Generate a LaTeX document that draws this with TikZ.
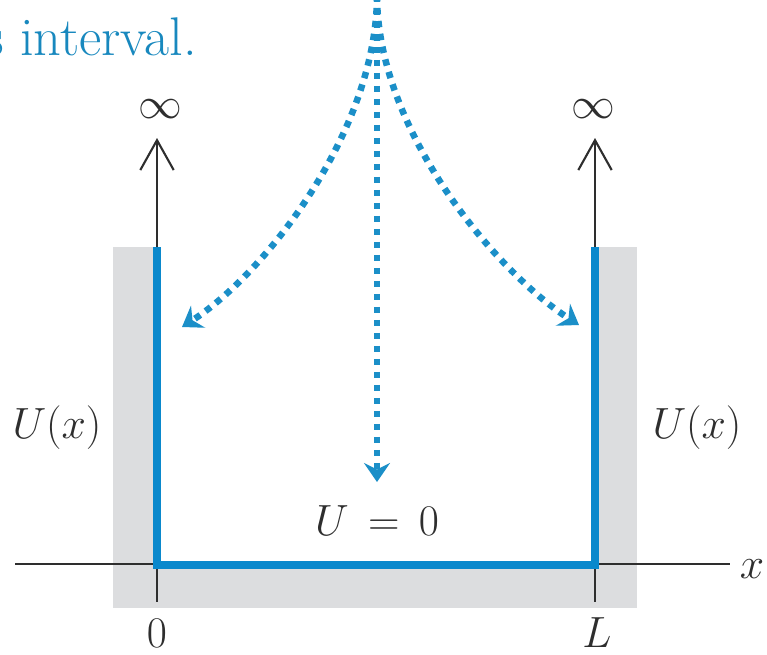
\documentclass[tikz,border=0pt]{standalone}
\usetikzlibrary{positioning, arrows.meta}
\definecolor{wallblue}{HTML}{0A88CC}
\definecolor{dotblue}{HTML}{1B8FC8}
\definecolor{textblue}{HTML}{1888BE}
\definecolor{wallgray}{HTML}{DCDDDF}
\definecolor{axisgray}{HTML}{2E2E2E}
\newcommand{\wellfont}{\fontsize{31}{36}\selectfont}

\begin{document}
\begin{tikzpicture}[
  x=0.02cm, y=-0.02cm,
  wallLine/.style={draw=wallblue, line width=0.16cm, line join=miter},
  axisLine/.style={draw=axisgray, line width=0.045cm},
  infArrow/.style={axisLine, -{Straight Barb[length=17pt, width=19pt, line width=1.2pt]}},
  dotArrow/.style={draw=dotblue, line width=0.13cm, dash pattern=on 0.13cm off 0.13cm, -{Stealth[length=0.38cm, width=0.52cm, inset=0.13cm]}},
  wellLabel/.style={font=\wellfont, text=axisgray, inner sep=0pt}
]
\useasboundingbox (0,0) rectangle (767,654);
\clip (0,0) rectangle (767,654);

% Walls and well region
\fill[wallgray] (113,247) rectangle (637,608);
\fill[white] (157,240) rectangle (595,565);

% Corner points of the well
\coordinate (topL) at (157,247);
\coordinate (botL) at (157,565);
\coordinate (botR) at (595,565);
\coordinate (topR) at (595,247);

% Axis and ticks
\coordinate (axisStart) at (15,564);
\coordinate (axisEnd) at (730,564);
\node[wellLabel, anchor=base] (xlab) at (752,578) {$x$};
\draw[axisLine] (axisStart) -- (axisEnd);
\node[wellLabel, anchor=base] (zero) at (157,647) {$0$};
\node[wellLabel, anchor=base] (ell) at (597,647) {$L$};
\draw[axisLine] (botL) -- ++(0,37);
\draw[axisLine] (botR) -- ++(0,37);

% Infinite walls
\node[wellLabel] (infL) at (160,109) {$\infty$};
\node[wellLabel] (infR) at (593,109) {$\infty$};
\draw[infArrow] (topL) -- (157,138);
\draw[infArrow] (topR) -- (595,138);

% Potential profile
\draw[wallLine] (topL) -- (botL) -- (botR) -- (topR);

% Labels
\node[wellLabel, anchor=base] (uleft) at (57,438) {$U(x)$};
\node[wellLabel, anchor=base] (uright) at (697,438) {$U(x)$};
\node[wellLabel, anchor=base] (uzero) at (377,535) {$U\,=\,0$};
\node[font=\wellfont, text=textblue, inner sep=0pt, anchor=base east] (caption) at (197,55) {s interval.};

% Dotted pointers
\coordinate (src) at (377,-5);
\coordinate (tipL) at (182,327);
\coordinate (tipR) at (579,325);
\coordinate (tipC) at (377,482);
\draw[dotArrow] (src) .. controls (377,130) and (266,273) .. (tipL);
\draw[dotArrow] (src) .. controls (377,130) and (495,271) .. (tipR);
\draw[dotArrow] (src) -- (tipC);

\end{tikzpicture}
\end{document}
